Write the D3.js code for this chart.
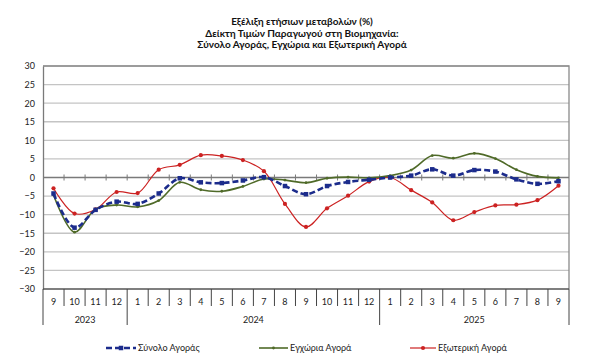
<!DOCTYPE html>
<html>
<head>
<meta charset="utf-8">
<script src="https://cdn.jsdelivr.net/npm/d3@7"></script>
<style>
  body { margin: 0; background: #fff; }
  svg { display: block; font-family: Lato, "Open Sans", sans-serif; }
</style>
</head>
<body>
<div id="chart"></div>
<script>
// Months 9/2023 .. 9/2025
const months = ['9','10','11','12','1','2','3','4','5','6','7','8','9','10','11','12','1','2','3','4','5','6','7','8','9'];
const years = [
  { label: '2023', start: 0, end: 4 },
  { label: '2024', start: 4, end: 16 },
  { label: '2025', start: 16, end: 25 }
];
const yTicks = [30, 25, 20, 15, 10, 5, 0, -5, -10, -15, -20, -25, -30];

const totalMarket = [-4.3, -13.5, -8.7, -6.5, -7.1, -4.3, -0.2, -1.3, -1.5, -0.8, 0.1, -2.3, -4.5, -2.3, -1.2, -0.6, 0.0, 0.5, 2.2, 0.5, 2.0, 1.6, -0.5, -1.7, -1.0];
const domesticMarket = [-4.7, -14.7, -8.5, -7.4, -7.9, -6.2, -1.3, -3.3, -3.7, -2.4, -0.4, -0.7, -1.4, -0.2, 0.1, -0.1, 0.5, 2.0, 5.9, 5.2, 6.5, 5.1, 2.1, 0.3, -0.1];
const foreignMarket = [-2.9, -9.7, -8.6, -3.9, -4.2, 2.1, 3.4, 6.0, 5.8, 4.7, 1.7, -7.1, -13.3, -8.3, -4.9, -1.1, 0.0, -3.4, -6.7, -11.5, -9.3, -7.5, -7.3, -6.1, -2.2];

const titleLines = [
  'Εξέλιξη ετήσιων μεταβολών (%)',
  'Δείκτη Τιμών Παραγωγού στη Βιομηχανία:',
  'Σύνολο Αγοράς, Εγχώρια και Εξωτερική Αγορά'
];

const width = 600, height = 362;
const plot = { left: 43, right: 569, top: 66, bottom: 289 };

const svg = d3.select('#chart').append('svg')
  .attr('width', width)
  .attr('height', height);

// Title
svg.append('g').selectAll('text')
  .data(titleLines)
  .join('text')
  .attr('x', 302)
  .attr('y', (d, i) => 25 + i * 11.6)
  .attr('text-anchor', 'middle')
  .style('font-size', '10px')
  .style('font-weight', 'bold')
  .style('fill', '#111')
  .text(d => d);

const x = d3.scaleBand()
  .domain(d3.range(months.length))
  .range([plot.left, plot.right]);

const y = d3.scaleLinear()
  .domain([-30, 30])
  .range([plot.bottom, plot.top]);

// Gridlines
svg.append('g').selectAll('line')
  .data(yTicks.filter(d => d !== 0 && d !== -30))
  .join('line')
  .attr('x1', plot.left).attr('x2', plot.right)
  .attr('y1', d => y(d)).attr('y2', d => y(d))
  .style('stroke', '#c4c4c4')
  .style('stroke-width', 1.3);

// Plot border (top/right)
svg.append('path')
  .attr('d', `M${plot.left},${plot.top}H${plot.right}V${plot.bottom}`)
  .style('fill', 'none')
  .style('stroke', '#8a8a8a')
  .style('stroke-width', 1.3);

// Y axis
const yAxis = svg.append('g')
  .attr('transform', `translate(${plot.left},0)`)
  .call(d3.axisLeft(y).tickValues(yTicks).tickSize(0).tickPadding(8));
yAxis.select('.domain').style('stroke', '#7a7a7a').style('stroke-width', 1.3);
yAxis.selectAll('text')
  .style('font-size', '9px')
  .style('font-family', 'Lato, "Open Sans", sans-serif')
  .style('fill', '#222');

// Zero line with ticks at category boundaries
svg.append('line')
  .attr('x1', plot.left).attr('x2', plot.right)
  .attr('y1', y(0)).attr('y2', y(0))
  .style('stroke', '#7a7a7a')
  .style('stroke-width', 1.3);
svg.append('g').selectAll('line')
  .data(d3.range(1, months.length))
  .join('line')
  .attr('x1', d => x(d)).attr('x2', d => x(d))
  .attr('y1', y(0) - 3).attr('y2', y(0) + 3)
  .style('stroke', '#7a7a7a')
  .style('stroke-width', 1);

// Bottom axis line
svg.append('line')
  .attr('x1', plot.left).attr('x2', plot.right)
  .attr('y1', plot.bottom).attr('y2', plot.bottom)
  .style('stroke', '#555')
  .style('stroke-width', 1.3);

// Month separators and labels
svg.append('g').selectAll('line')
  .data(d3.range(0, months.length + 1))
  .join('line')
  .attr('x1', d => plot.left + d * x.bandwidth())
  .attr('x2', d => plot.left + d * x.bandwidth())
  .attr('y1', plot.bottom)
  .attr('y2', d => years.some(yr => yr.start === d) || d === months.length ? 325 : 306)
  .style('stroke', '#444')
  .style('stroke-width', 1);

svg.append('g').selectAll('text')
  .data(months)
  .join('text')
  .attr('x', (d, i) => x(i) + x.bandwidth() / 2)
  .attr('y', 305)
  .attr('text-anchor', 'middle')
  .style('font-size', '9px')
  .style('fill', '#222')
  .text(d => d);

svg.append('g').selectAll('text')
  .data(years)
  .join('text')
  .attr('x', d => (x(d.start) + plot.left + d.end * x.bandwidth()) / 2)
  .attr('y', 323)
  .attr('text-anchor', 'middle')
  .style('font-size', '9px')
  .style('fill', '#222')
  .text(d => d.label);

// Series
const series = [
  { name: 'Σύνολο Αγοράς', values: totalMarket, color: '#1c2c8c', width: 2.6, dash: '6,3', marker: 'square', size: 4.5, legendX: 106, legendW: 30 },
  { name: 'Εγχώρια Αγορά', values: domesticMarket, color: '#4f6a28', width: 1.6, dash: null, marker: 'circle', size: 1.4, legendX: 259, legendW: 29 },
  { name: 'Εξωτερική Αγορά', values: foreignMarket, color: '#cc2222', width: 1.2, dash: null, marker: 'circle', size: 2.1, legendX: 410, legendW: 26 }
];

const line = d3.line()
  .x((d, i) => x(i) + x.bandwidth() / 2)
  .y(d => y(d))
  .curve(d3.curveCatmullRom.alpha(0.5));

// draw red first, then green, then blue on top
[series[2], series[1], series[0]].forEach(s => {
  const g = svg.append('g');
  g.append('path')
    .datum(s.values)
    .attr('d', line)
    .style('fill', 'none')
    .style('stroke', s.color)
    .style('stroke-width', s.width)
    .style('stroke-dasharray', s.dash);
  if (s.marker === 'square') {
    g.selectAll('rect')
      .data(s.values)
      .join('rect')
      .attr('x', (d, i) => x(i) + x.bandwidth() / 2 - s.size / 2)
      .attr('y', d => y(d) - s.size / 2)
      .attr('width', s.size).attr('height', s.size)
      .style('fill', s.color);
  } else {
    g.selectAll('circle')
      .data(s.values)
      .join('circle')
      .attr('cx', (d, i) => x(i) + x.bandwidth() / 2)
      .attr('cy', d => y(d))
      .attr('r', s.size)
      .style('fill', s.color);
  }
});

// Legend
const legend = svg.append('g');
series.forEach(s => {
  const ly = 348;
  const mid = s.legendX + s.legendW / 2;
  legend.append('line')
    .attr('x1', s.legendX).attr('x2', s.legendX + s.legendW)
    .attr('y1', ly).attr('y2', ly)
    .style('stroke', s.color)
    .style('stroke-width', s.width)
    .style('stroke-dasharray', s.dash);
  if (s.marker === 'square') {
    legend.append('rect')
      .attr('x', mid - s.size / 2).attr('y', ly - s.size / 2)
      .attr('width', s.size).attr('height', s.size)
      .style('fill', s.color);
  } else {
    legend.append('circle')
      .attr('cx', mid).attr('cy', ly).attr('r', s.size)
      .style('fill', s.color);
  }
  legend.append('text')
    .attr('x', s.legendX + s.legendW + 2)
    .attr('y', ly + 3)
    .style('font-size', '9px')
    .style('fill', '#222')
    .text(s.name);
});
</script>
</body>
</html>
